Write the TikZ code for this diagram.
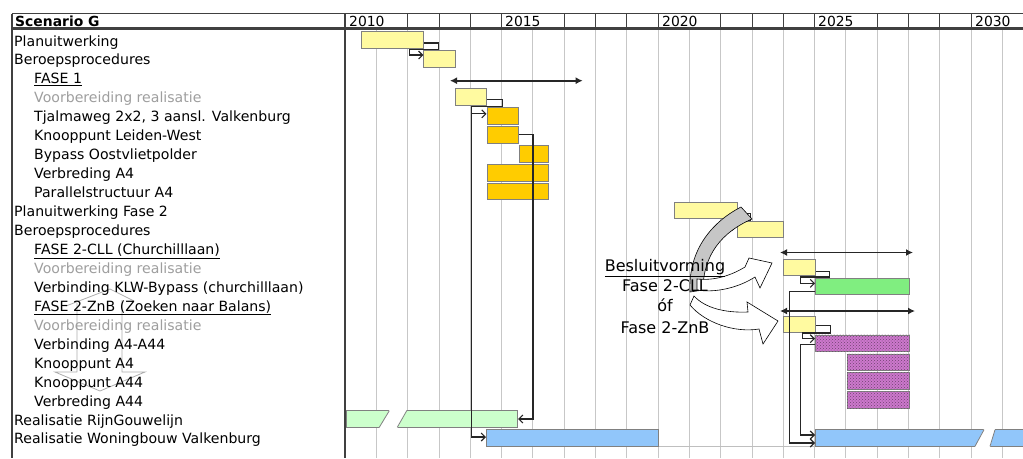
\documentclass[tikz,border=0pt]{standalone}
\usepackage{fontspec}
\setmainfont{DejaVu Sans}
\usetikzlibrary{arrows.meta,patterns}

\definecolor{planyel}{RGB}{255,250,160}
\definecolor{bouwor}{RGB}{255,204,0}
\definecolor{cllgreen}{RGB}{128,238,128}
\definecolor{rglgreen}{RGB}{204,255,204}
\definecolor{woonblue}{RGB}{145,198,250}
\definecolor{znbpurple}{RGB}{204,120,204}
\definecolor{framegray}{RGB}{64,64,64}

\tikzset{
  bar/.style={draw=gray, line width=0.8pt, minimum height=16.5pt, inner sep=0pt, anchor=west},
  znb/.style={fill=znbpurple, postaction={pattern=crosshatch dots, pattern color=znbpurple!55!black}},
  barline/.style={draw=gray, line width=0.8pt},
  link/.style={draw=black!85, line width=1.1pt, -{Straight Barb[length=4pt,width=8pt]}},
  phase/.style={draw=black!85, line width=1.8pt, {Latex[length=7pt,width=7pt]}-{Latex[length=7pt,width=7pt]}},
  lbl/.style={anchor=base west, inner sep=0pt},
  greytxt/.style={lbl, text=black!38},
  besluit/.style={anchor=base, font=\fontsize{16}{18}\selectfont},
  tabframe/.style={draw=framegray, line width=1.6pt},
  yeargrid/.style={draw=black!22, line width=0.8pt}
}

\begin{document}
\begin{tikzpicture}[x=1pt,y=-1pt,font=\fontsize{14.1}{16}\selectfont]
\useasboundingbox (0,0) rectangle (1023,458);

% year grid and header
\foreach \j in {1,...,21}
  \draw[yeargrid] ({345+31.3*\j},28.5) -- ({345+31.3*\j},458);
\foreach \j in {2,3,4,5,7,8,9,10,12,13,14,15,17,18,19,20}
  \draw[framegray, line width=0.8pt] ({345+31.3*\j},13.5) -- ({345+31.3*\j},28.5);
\draw[tabframe] (12,13.5) -- (1023,13.5);
\draw[tabframe, line width=2.2pt] (12,28.5) -- (1023,28.5);
\draw[tabframe] (12,13.5) -- (12,458);
\draw[tabframe] (345,13.5) -- (345,458);

\node[lbl, font=\fontsize{13.9}{16}\selectfont\bfseries] (scen) at (15,26.5) {Scenario G};
\foreach \yr/\xx in {2010/349,2015/505,2020/662,2025/818,2030/975}
  \node[lbl, font=\fontsize{13.9}{16}\selectfont] (y\yr) at (\xx,26.5) {\yr};

% left column
\draw[black!32, line width=0.8pt] (77,372) -- (77,303) (66,306) -- (110,289) -- (134,301)
  (122,300) -- (122,372) -- (145,372) -- (100,391) -- (55,372) -- (77,372);

\node[lbl] (t1) at (14,46) {Planuitwerking};
\node[lbl] (t2) at (14,64.95) {Beroepsprocedures};
\node[lbl] (t3) at (34,83.9) {\underline{FASE 1}};
\node[greytxt] (t4) at (34,102.85) {Voorbereiding realisatie};
\node[lbl] (t5) at (34,121.8) {Tjalmaweg 2x2, 3 aansl. Valkenburg};
\node[lbl] (t6) at (34,140.75) {Knooppunt Leiden-West};
\node[lbl] (t7) at (34,159.7) {Bypass Oostvlietpolder};
\node[lbl] (t8) at (34,178.65) {Verbreding A4};
\node[lbl] (t9) at (34,197.6) {Parallelstructuur A4};
\node[lbl] (t10) at (14,216.55) {Planuitwerking Fase 2};
\node[lbl] (t11) at (14,235.5) {Beroepsprocedures};
\node[lbl] (t12) at (34,254.45) {\underline{FASE 2-CLL (Churchilllaan)}};
\node[greytxt] (t13) at (34,273.4) {Voorbereiding realisatie};
\node[lbl] (t14) at (34,292.35) {Verbinding KLW-Bypass (churchilllaan)};
\node[lbl] (t15) at (34,311.3) {\underline{FASE 2-ZnB (Zoeken naar Balans)}};
\node[greytxt] (t16) at (34,330.25) {Voorbereiding realisatie};
\node[lbl] (t17) at (34,349.2) {Verbinding A4-A44};
\node[lbl] (t18) at (34,368.15) {Knooppunt A4};
\node[lbl] (t19) at (34,387.1) {Knooppunt A44};
\node[lbl] (t20) at (34,406.05) {Verbreding A44};
\node[lbl] (t21) at (14,425) {Realisatie RijnGouwelijn};
\node[lbl] (t22) at (14,443.95) {Realisatie Woningbouw Valkenburg};

% bars
\node[bar, fill=planyel, minimum width=62.6pt] (plan1) at (360.7,40) {};
\node[bar, fill=planyel, minimum width=31.3pt] (berp1) at (423.3,59) {};
\node[bar, fill=planyel, minimum width=31.3pt] (voor1) at (455,96.9) {};
\node[bar, fill=bouwor, minimum width=31.3pt] (tjal) at (486.5,115.8) {};
\node[bar, fill=bouwor, minimum width=31.3pt] (leidw) at (486.5,134.8) {};
\node[bar, fill=bouwor, minimum width=29.3pt] (bypass) at (519,153.7) {};
\node[bar, fill=bouwor, minimum width=61.6pt] (verbr4) at (486.7,172.7) {};
\node[bar, fill=bouwor, minimum width=61.6pt] (paral) at (486.7,191.6) {};
\node[bar, fill=planyel, minimum width=63pt] (plan2) at (673.5,210.6) {};
\node[bar, fill=planyel, minimum width=46.6pt] (berp2) at (736.7,229.5) {};
\node[bar, fill=planyel, minimum width=31.7pt] (voorc) at (783.3,267.4) {};
\node[bar, fill=cllgreen, minimum width=94.3pt] (klwb) at (815,286.4) {};
\node[bar, fill=planyel, minimum width=31.7pt] (voorz) at (783.3,324.3) {};
\node[bar, znb, minimum width=94.3pt] (a4a44) at (815,343.2) {};
\node[bar, znb, minimum width=62.6pt] (kpa4) at (846.7,362.2) {};
\node[bar, znb, minimum width=62.6pt] (kpa44) at (846.7,381.1) {};
\node[bar, znb, minimum width=62.6pt] (vba44) at (846.7,400.1) {};
\node[bar, fill=rglgreen, minimum width=171.3pt] (rgl) at (346,419) {};
\node[bar, fill=woonblue, minimum width=172.3pt] (woon1) at (486,438) {};
\node[bar, fill=woonblue, minimum width=215pt] (woon2) at (815,438) {};

% breaks in the long bars
\fill[white] (389.3,410) -- (406.7,410) -- (397.3,428) -- (379.3,428) -- cycle;
\draw[barline] (389.3,410.75) -- (379.3,427.25) (406.7,410.75) -- (397.3,427.25);
\fill[white] (984,429) -- (995,429) -- (990,447) -- (975,447) -- cycle;
\draw[barline] (984,429.75) -- (975,446.25) (995,429.75) -- (990,446.25);
\draw[gray!50, line width=0.6pt] (woon1.south east) -- (woon2.south west);

% links
\draw[link] ([yshift=-3pt]plan1.east) -- ++(14,0) -- ++(0,6.5) -- ++(-29,0) |- ([yshift=4pt]berp1.west);
\draw[link] ([yshift=-2.5pt]voor1.east) -- ++(15,0) -- ++(0,7) -- ++(-30.7,0) |- ([yshift=2pt]tjal.west);
\draw[link] ([yshift=-2.5pt]voor1.east) -- ++(15,0) -- ++(0,7) -- ++(-30.7,0) |- ([yshift=1pt]woon1.west);
\draw[link] (leidw.east) -- ++(14.4,0) |- (rgl.east);
\draw[link] ([yshift=-3pt]plan2.east) -- ++(13,0) -- ++(0,7) -- ++(-27,0) |- ([yshift=3pt]berp2.west);
\draw[link] ([yshift=-4pt]voorc.east) -- ++(13.3,0) -- ++(0,5.6) -- ++(-29,0) |- ([yshift=3pt]klwb.west);
\draw[link] ([yshift=-5pt]klwb.west) -- ++(-25.7,0) |- ([yshift=-5pt]woon2.west);
\draw[link] ([yshift=-1pt]voorz.east) -- ++(15,0) -- ++(0,7.7) -- ++(-28.3,0) |- ([yshift=4.5pt]a4a44.west);
\draw[link] ([yshift=-1.5pt]a4a44.west) -- ++(-14.3,0) |- ([yshift=3pt]woon2.west);

% phases
\coordinate (f1a) at (450,80.7);
\coordinate (f1b) at (582.7,80.7);
\coordinate (fca) at (780,252.5);
\coordinate (fcb) at (913,252.5);
\coordinate (fza) at (780,311);
\coordinate (fzb) at (915,311);
\draw[phase] (f1a) -- (f1b);
\draw[phase] (fca) -- (fcb);
\draw[phase] (fza) -- (fzb);

% decision arrows
\filldraw[fill=gray!45, draw=black, line width=0.6pt] (741,207) .. controls (712,222) and (688,250) .. (690,292)
  -- (703,290) .. controls (703,255) and (722,232) .. (752,219) -- cycle;
\filldraw[fill=white, draw=black, line width=0.6pt] (697,279) .. controls (715,281) and (732,275) .. (745,267)
  -- (749,258) -- (772,263) -- (760,288) -- (755,277) .. controls (738,288) and (715,293) .. (697,290) -- cycle;
\filldraw[fill=white, draw=black, line width=0.6pt] (694,296) .. controls (705,308) and (725,313) .. (748,312)
  -- (747,302) -- (778,321) -- (763,344) -- (759,329) .. controls (735,333) and (705,323) .. (690,305) -- cycle;

\node[besluit] (besl) at (665,271.5) {\underline{Besluitvorming}};
\node[besluit] (fcll) at (665,291.5) {Fase 2-CLL};
\node[besluit] (ofn) at (665,311.5) {óf};
\node[besluit] (fznb) at (665,333) {Fase 2-ZnB};
\end{tikzpicture}
\end{document}
